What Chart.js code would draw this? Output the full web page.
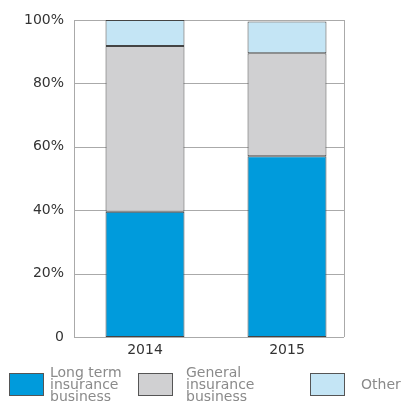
<!DOCTYPE html>
<html>
<head>
<meta charset="utf-8">
<script src="https://cdn.jsdelivr.net/npm/chart.js@4"></script>
<style>
html,body{margin:0;padding:0;background:#fff;}
#wrap{width:402px;height:401px;position:relative;}
</style>
</head>
<body>
<div id="wrap"><canvas id="c" width="402" height="401"></canvas></div>
<script>
const years = ['2014', '2015'];
const longTerm = [39.5, 57.0];
const general = [52.3, 32.5];
const other = [8.2, 10.0];
const seriesNames = [['Long term', 'insurance', 'business'], ['General', 'insurance', 'business'], ['Other']];
const yTickLabels = ['0', '20%', '40%', '60%', '80%', '100%'];

const FONT = "'DejaVu Sans', sans-serif";
const colors = ['#009BDC', '#D0D0D2', '#C4E5F5'];
const GRID = '#aaa';
const FRAME_RIGHT = 344;

const framePlugin = {
  id: 'frame',
  beforeDatasetsDraw(chart) {
    const ctx = chart.ctx;
    const y = chart.scales.y;
    const a = chart.chartArea;
    ctx.save();
    ctx.strokeStyle = GRID;
    ctx.lineWidth = 1;
    ctx.beginPath();
    y.ticks.forEach(t => {
      const py = Math.round(y.getPixelForValue(t.value)) + 0.5;
      ctx.moveTo(a.left, py);
      ctx.lineTo(FRAME_RIGHT, py);
    });
    ctx.moveTo(FRAME_RIGHT + 0.5, a.top);
    ctx.lineTo(FRAME_RIGHT + 0.5, a.bottom);
    ctx.moveTo(a.left + 0.5, a.top);
    ctx.lineTo(a.left + 0.5, a.bottom);
    ctx.stroke();
    ctx.restore();
  }
};

const legendPlugin = {
  id: 'customLegend',
  afterDraw(chart) {
    const ctx = chart.ctx;
    const pos = [
      {bx: 9, tx: 50},
      {bx: 138, tx: 186},
      {bx: 310, tx: 361}
    ];
    ctx.save();
    ctx.font = '14px ' + FONT;
    ctx.textBaseline = 'middle';
    ctx.textAlign = 'left';
    chart.data.datasets.forEach((ds, i) => {
      const p = pos[i];
      ctx.fillStyle = ds.backgroundColor;
      ctx.fillRect(p.bx + 0.5, 373.5, 34, 22);
      ctx.strokeStyle = '#555';
      ctx.lineWidth = 1;
      ctx.strokeRect(p.bx + 0.5, 373.5, 34, 22);
      ctx.fillStyle = '#8a8a8a';
      const lines = Array.isArray(ds.label) ? ds.label : [ds.label];
      if (lines.length === 1) {
        ctx.fillText(lines[0], p.tx, 385);
      } else {
        lines.forEach((l, j) => ctx.fillText(l, p.tx, 373 + j * 12));
      }
    });
    ctx.restore();
  }
};

new Chart(document.getElementById('c'), {
  type: 'bar',
  data: {
    labels: years,
    datasets: [
      {label: seriesNames[0], data: longTerm, backgroundColor: colors[0]},
      {label: seriesNames[1], data: general, backgroundColor: colors[1]},
      {label: seriesNames[2], data: other, backgroundColor: colors[2]}
    ].map(d => Object.assign(d, {
      borderColor: '#444', borderWidth: 1, borderSkipped: false,
      barPercentage: 0.556, categoryPercentage: 1.0
    }))
  },
  options: {
    responsive: false,
    animation: false,
    devicePixelRatio: 1,
    layout: {padding: {top: 20, right: 44, bottom: 40, left: 0}},
    plugins: {legend: {display: false}, tooltip: {enabled: false}},
    scales: {
      x: {
        stacked: true,
        grid: {display: false, drawTicks: false},
        border: {display: false},
        ticks: {color: '#333', font: {family: FONT, size: 14}, padding: 5},
        afterFit(s) { s.height = 24; }
      },
      y: {
        stacked: true,
        min: 0, max: 100,
        grid: {display: false, drawTicks: false},
        border: {display: false},
        ticks: {
          stepSize: 20,
          color: '#333',
          font: {family: FONT, size: 14},
          padding: 10,
          callback: (v) => yTickLabels[Math.round(v / 20)]
        },
        afterFit(s) { s.width = 74; }
      }
    }
  },
  plugins: [framePlugin, legendPlugin]
});
</script>
</body>
</html>
